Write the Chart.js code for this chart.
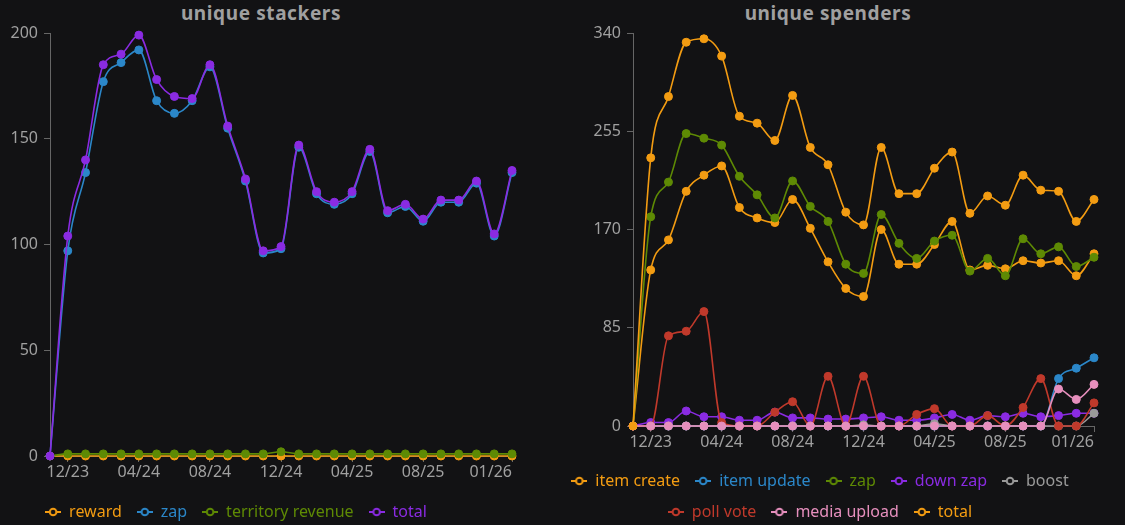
<!DOCTYPE html>
<html>
<head>
<meta charset="utf-8">
<script src="https://cdn.jsdelivr.net/npm/chart.js@4.4.1/dist/chart.umd.min.js"></script>
<style>
    html, body { margin: 0; padding: 0; background: #121214; overflow: hidden; width: 1125px; height: 525px; }
    .title { position: absolute; top: 0; transform: translateX(-50%); white-space: nowrap;
             font: bold 19px 'Noto Sans', sans-serif; letter-spacing: 0.6px; color: #a0a0a0; }
    .box { position: absolute; top: 0; height: 530px; }
</style>
</head>
<body>
<div class="title" style="left:261px">unique stackers</div>
<div class="title" style="left:828px">unique spenders</div>
<div class="box" style="left:-40px;width:562px"><canvas id="stackersChart"></canvas></div>
<div class="box" style="left:546px;width:558px"><canvas id="spendersChart"></canvas></div>
<script>
// months on the x axis, and the ones that get a tick label
const months = ['11/23', '12/23', '01/24', '02/24', '03/24', '04/24', '05/24', '06/24', '07/24',
    '08/24', '09/24', '10/24', '11/24', '12/24', '01/25', '02/25', '03/25', '04/25', '05/25',
    '06/25', '07/25', '08/25', '09/25', '10/25', '11/25', '12/25', '01/26'];
const shownTicks = ['12/23', '04/24', '08/24', '12/24', '04/25', '08/25', '01/26'];

// unique stackers
const stackerReward = [0, 0, 0, 0, 0, 0, 0, 0, 0, 0, 0, 0, 0, 0, 0, 0, 0, 0, 0, 0, 0, 0, 0, 0, 0, 0, 0];
const stackerZap = [0, 97, 134, 177, 186, 192, 168, 162, 168, 184, 155, 130, 96, 98, 146, 124, 119, 124, 144, 115, 118, 111, 120, 120, 129, 104, 134];
const stackerTerritory = [0, 1, 1, 1, 1, 1, 1, 1, 1, 1, 1, 1, 1, 2, 1, 1, 1, 1, 1, 1, 1, 1, 1, 1, 1, 1, 1];
const stackerTotal = [0, 104, 140, 185, 190, 199, 178, 170, 169, 185, 156, 131, 97, 99, 147, 125, 120, 125, 145, 116, 119, 112, 121, 121, 130, 105, 135];
const stackerTicks = [0, 50, 100, 150, 200];

// unique spenders
const spendItemCreate = [0, 135, 161, 203, 217, 225, 189, 180, 176, 196, 171, 142, 119, 112, 170, 140, 140, 157, 177, 135, 139, 136, 143, 141, 143, 130, 149];
const spendItemUpdate = [0, 0, 0, 0, 0, 0, 0, 0, 0, 0, 0, 0, 0, 0, 0, 0, 0, 0, 0, 0, 0, 0, 0, 0, 41, 50, 59];
const spendZap = [0, 181, 211, 253, 249, 243, 216, 200, 180, 212, 190, 177, 140, 132, 183, 158, 145, 160, 165, 134, 145, 130, 162, 149, 155, 138, 146];
const spendDownZap = [0, 3, 3, 13, 8, 8, 5, 5, 12, 7, 7, 6, 6, 7, 8, 5, 5, 7, 10, 5, 9, 8, 11, 8, 9, 11, 11];
const spendBoost = [0, 0, 0, 0, 0, 0, 0, 0, 0, 0, 0, 0, 0, 1, 0, 0, 0, 2, 0, 0, 0, 0, 0, 0, 0, 0, 11];
const spendPollVote = [0, 0, 78, 82, 99, 3, 0, 0, 12, 21, 0, 43, 0, 43, 0, 0, 10, 15, 0, 0, 9, 0, 16, 41, 0, 0, 20];
const spendMediaUpload = [0, 0, 0, 0, 0, 0, 0, 0, 0, 0, 0, 0, 0, 0, 0, 0, 0, 0, 0, 0, 0, 0, 0, 0, 32, 23, 36];
const spendTotal = [0, 232, 285, 332, 335, 320, 268, 262, 247, 286, 241, 226, 185, 174, 241, 201, 201, 223, 237, 184, 199, 191, 217, 204, 203, 177, 196];
const spenderTicks = [0, 85, 170, 255, 340];

const BG = '#121214';
const AXIS = '#666666';
const TEXT = '#a0a0a0';
const ORANGE = '#f39c12';
const BLUE = '#2b87c9';
const GREEN = '#5e8a04';
const PURPLE = '#8a2be2';
const GREY = '#9a9a9a';
const RED = '#c0392b';
const PINK = '#e68fbd';

Chart.defaults.font.family = "'Noto Sans', sans-serif";
Chart.defaults.font.size = 16;
Chart.defaults.color = TEXT;

// legend icon: short line with a hollow dot
function makeIcon(color) {
    const c = document.createElement('canvas');
    c.width = 16;
    c.height = 10;
    const g = c.getContext('2d');
    g.strokeStyle = color;
    g.lineWidth = 2;
    g.beginPath(); g.moveTo(0, 5); g.lineTo(16, 5); g.stroke();
    g.beginPath(); g.arc(8, 5, 3.3, 0, Math.PI * 2);
    g.fillStyle = BG; g.fill(); g.stroke();
    return c;
}

function makeSeries(list) {
    // later series are drawn on top, like the original
    return list.map(([label, data, color], i) => ({
        label, data,
        borderColor: color,
        backgroundColor: color,
        borderWidth: 1.6,
        pointRadius: 4,
        pointHoverRadius: 4,
        pointBorderWidth: 1,
        cubicInterpolationMode: 'monotone',
        clip: false,
        order: list.length - i
    }));
}

function makeChart(id, series, yTicks, yWidth, xHeight) {
    const ctx = document.getElementById(id).getContext('2d');
    return new Chart(ctx, {
        type: 'line',
        data: { labels: months, datasets: makeSeries(series) },
        options: {
            responsive: true,
            maintainAspectRatio: false,
            animation: false,
            events: [],
            layout: { padding: { top: 33, right: 10, left: 0, bottom: 0 } },
            scales: {
                x: {
                    afterFit: axis => { axis.height = xHeight; },
                    border: { color: AXIS },
                    grid: {
                        drawOnChartArea: false,
                        tickLength: 6,
                        color: c => shownTicks.includes(months[c.index]) ? AXIS : 'transparent'
                    },
                    ticks: {
                        autoSkip: false,
                        maxRotation: 0,
                        align: 'inner',
                        padding: 1,
                        color: TEXT,
                        callback: (v, i) => shownTicks.includes(months[i]) ? months[i] : ''
                    }
                },
                y: {
                    min: yTicks[0],
                    max: yTicks[yTicks.length - 1],
                    afterFit: axis => { axis.width = yWidth; },
                    afterBuildTicks: axis => { axis.ticks = yTicks.map(v => ({ value: v })); },
                    border: { color: AXIS },
                    grid: { drawOnChartArea: false, tickLength: 6, color: AXIS },
                    ticks: { padding: 6, color: TEXT }
                }
            },
            plugins: {
                tooltip: { enabled: false },
                legend: {
                    position: 'bottom',
                    labels: {
                        usePointStyle: true,
                        boxWidth: 16,
                        padding: 15,
                        sort: (a, b) => a.datasetIndex - b.datasetIndex,
                        generateLabels: chart => Chart.defaults.plugins.legend.labels.generateLabels(chart).map(item => {
                            const color = chart.data.datasets[item.datasetIndex].borderColor;
                            item.pointStyle = makeIcon(color);
                            item.fontColor = color;
                            return item;
                        })
                    }
                }
            }
        }
    });
}

makeChart('stackersChart', [
    ['reward', stackerReward, ORANGE],
    ['zap', stackerZap, BLUE],
    ['territory revenue', stackerTerritory, GREEN],
    ['total', stackerTotal, PURPLE]
], stackerTicks, 90, 33);

makeChart('spendersChart', [
    ['item create', spendItemCreate, ORANGE],
    ['item update', spendItemUpdate, BLUE],
    ['zap', spendZap, GREEN],
    ['down zap', spendDownZap, PURPLE],
    ['boost', spendBoost, GREY],
    ['poll vote', spendPollVote, RED],
    ['media upload', spendMediaUpload, PINK],
    ['total', spendTotal, ORANGE]
], spenderTicks, 87, 32);
</script>
</body>
</html>
